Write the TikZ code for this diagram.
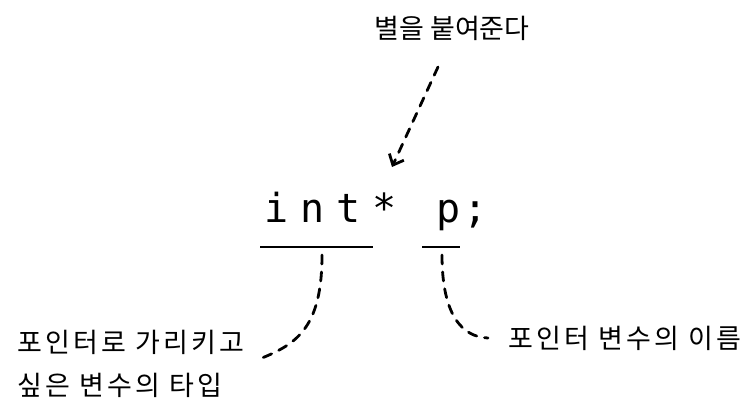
\documentclass[tikz,border=0pt]{standalone}
\usepackage{fontspec}
\setmainfont{Noto Sans CJK KR}
\newfontfamily\krfont{Noto Sans CJK KR}
\newfontfamily\krfontsp[LetterSpace=12]{Noto Sans CJK KR}
\newfontfamily\codefont[LetterSpace=30]{DejaVu Sans Mono}
\newfontfamily\codefontb[LetterSpace=8]{DejaVu Sans Mono}
\usetikzlibrary{arrows.meta}
\tikzset{
  label text/.style={inner sep=0pt, font=\krfontsp\fontsize{27}{30}\selectfont},
  title text/.style={inner sep=0pt, font=\krfont\fontsize{27}{30}\selectfont},
  code text/.style={inner sep=0pt},
  dashline/.style={line width=2.8pt, dash pattern=on 9pt off 8pt, line cap=round},
  underline/.style={line width=2.6pt},
}
\begin{document}
\begin{tikzpicture}[x=1pt,y=-1pt]
\useasboundingbox (0,0) rectangle (753,403);
% texts
\node[title text] (title) at (452,28) {별을 붙여준다};
\node[code text, anchor=base west] (int) at (264,223) {\codefont\fontsize{40}{44}\selectfont int*};
\node[code text, anchor=base west] (p) at (436,223) {\codefontb\fontsize{40}{44}\selectfont p;};
\node[label text, anchor=west] (l1) at (17,342) {포인터로 가리키고};
\node[label text, anchor=west] (l2) at (17,385) {싶은 변수의 타입};
\node[label text, anchor=west] (r1) at (508,338) {포인터 변수의 이름};
% coordinates
\coordinate (a1) at (438,67);
\coordinate (a2) at (392,167);
\coordinate (u1a) at (260,247);
\coordinate (u1b) at (373,247);
\coordinate (u2a) at (422,247);
\coordinate (u2b) at (460,247);
\coordinate (c1s) at (322,255);
\coordinate (c1e) at (257,360);
\coordinate (c2s) at (442,255);
\coordinate (c2e) at (488,338);
% arrow
\draw[dashline, -{Straight Barb[length=9pt,width=16pt,line width=2.8pt]}] (a1) -- (a2);
% underlines
\draw[underline] (u1a) -- (u1b);
\draw[underline] (u2a) -- (u2b);
% curves
\draw[dashline] (c1s) .. controls (322,330) and (295,345) .. (c1e);
\draw[dashline] (c2s) .. controls (442,315) and (462,337) .. (c2e);
\end{tikzpicture}
\end{document}
